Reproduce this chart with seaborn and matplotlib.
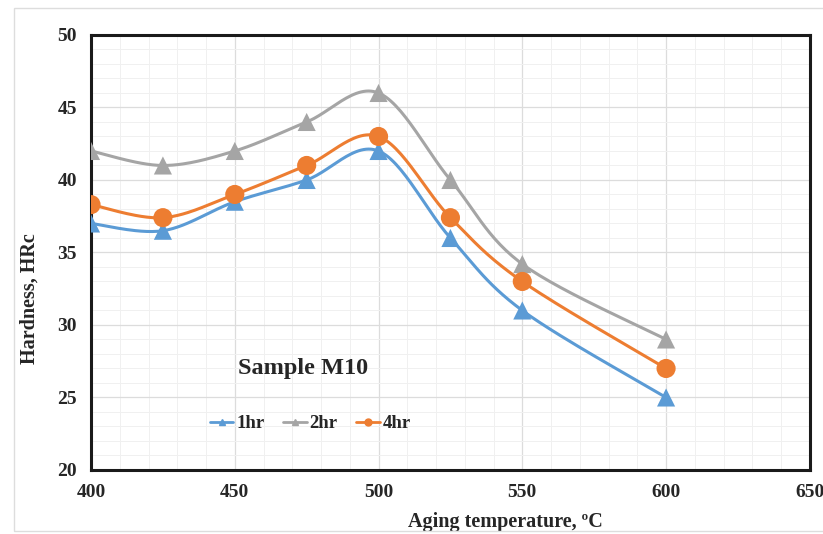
import numpy as np
import pandas as pd
import seaborn as sns
import matplotlib.pyplot as plt
from matplotlib.lines import Line2D
from matplotlib.patches import Rectangle
from matplotlib.ticker import MultipleLocator

# data
temps = [400, 425, 450, 475, 500, 525, 550, 600]
hard_1hr = [37.0, 36.5, 38.5, 40.0, 42.0, 36.0, 31.0, 25.0]
hard_2hr = [42.0, 41.0, 42.0, 44.0, 46.0, 40.0, 34.2, 29.0]
hard_4hr = [38.3, 37.4, 39.0, 41.0, 43.0, 37.4, 33.0, 27.0]
series = ['1hr', '2hr', '4hr']

df = pd.DataFrame({'temp': temps * 3,
                   'hardness': hard_1hr + hard_2hr + hard_4hr,
                   'time': [s for s in series for _ in temps]})

colors = {'1hr': '#5B9BD5', '2hr': '#A5A5A5', '4hr': '#ED7D31'}
markers = {'1hr': '^', '2hr': '^', '4hr': 'o'}


def smooth(x, y, n=30):
    # Excel-like smoothed line: cubic bezier through the points
    p = np.column_stack([x, y]).astype(float)
    p = np.vstack([p[0], p, p[-1]])
    out = []
    for i in range(1, len(p) - 2):
        p0, p1, p2, p3 = p[i - 1], p[i], p[i + 1], p[i + 2]
        c1 = p1 + (p2 - p0) / 6
        c2 = p2 - (p3 - p1) / 6
        t = np.linspace(0, 1, n)[:, None]
        seg = (1 - t) ** 3 * p1 + 3 * (1 - t) ** 2 * t * c1 + 3 * (1 - t) * t ** 2 * c2 + t ** 3 * p2
        out.append(seg)
    out = np.vstack(out)
    return out[:, 0], out[:, 1]


sns.set_style('white')
plt.rcParams['font.family'] = ['Liberation Serif', 'DejaVu Serif']
plt.rcParams['font.weight'] = 'bold'

fig = plt.figure(figsize=(8.23, 5.34), dpi=100)
ax = fig.add_axes([0.1106, 0.1199, 0.8734, 0.8146])

for s in series:
    d = df[df['time'] == s]
    sx, sy = smooth(d['temp'].values, d['hardness'].values)
    ax.plot(sx, sy, color=colors[s], lw=2.2, zorder=3)
    sns.scatterplot(data=d, x='temp', y='hardness', color=colors[s], marker=markers[s],
                    s=170 if s != '4hr' else 190, edgecolor='none', ax=ax, zorder=4, legend=False)

ax.set_xlim(400, 650)
ax.set_ylim(20, 50)
ax.xaxis.set_major_locator(MultipleLocator(50))
ax.yaxis.set_major_locator(MultipleLocator(5))
ax.xaxis.set_minor_locator(MultipleLocator(10))
ax.yaxis.set_minor_locator(MultipleLocator(1))
ax.grid(which='major', color='#dcdcdc', lw=0.9)
ax.grid(which='minor', color='#f0f0f0', lw=0.7)
ax.set_axisbelow(True)
ax.tick_params(which='major', direction='in', length=5, width=1.5, labelsize=14, pad=10)
ax.tick_params(which='minor', length=0)
for lab in ax.get_xticklabels() + ax.get_yticklabels():
    lab.set_fontweight('bold')
for sp in ax.spines.values():
    sp.set_color('#1a1a1a')
    sp.set_linewidth(2.2)

ax.set_xlabel('Aging temperature, ºC', fontsize=14.5, fontweight='bold')
ax.set_ylabel('Hardness, HRc', fontsize=14.5, fontweight='bold')
ax.xaxis.set_label_coords(0.577, -0.097)
ax.yaxis.set_label_coords(-0.072, 0.395)

ax.text(451, 27.0, 'Sample M10', fontsize=17.5, fontweight='bold', va='center', ha='left')

handles = [Line2D([], [], color=colors[s], marker=markers[s], lw=2, markersize=5) for s in series]
ax.legend(handles, series, loc='center', bbox_to_anchor=(0.305, 0.106), ncol=3, frameon=False,
          prop={'size': 13.5, 'weight': 'bold'}, handlelength=1.25, handletextpad=0.15,
          columnspacing=1.0)

# light chart-area border
fig.patches.append(Rectangle((14 / 823, 3 / 534), 1.2, 1 - 11 / 534, transform=fig.transFigure,
                             fill=False, edgecolor='#dddddd', lw=1))

fig.savefig('out.png', dpi=100)
